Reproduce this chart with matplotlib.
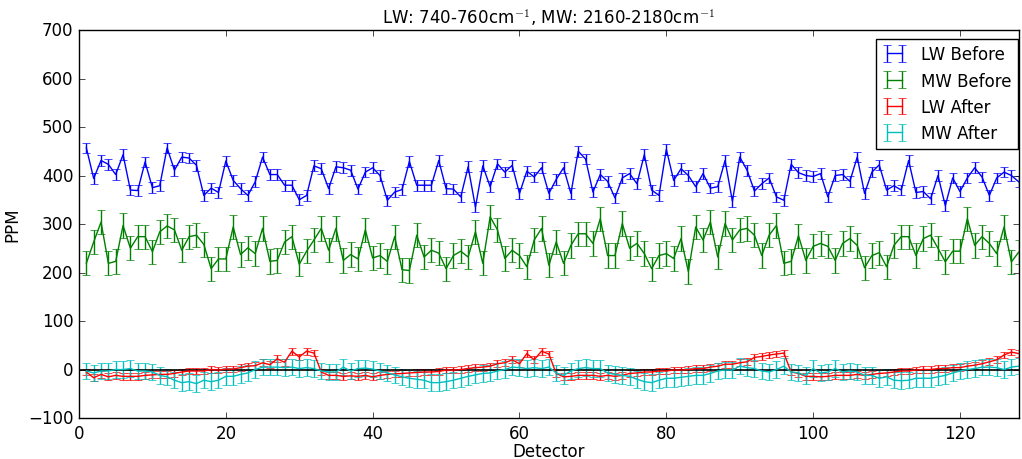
import matplotlib
matplotlib.use('Agg')
import matplotlib.pyplot as plt

detectors = list(range(1, 129))

lw_before = [457, 394, 431, 423, 402, 443, 370, 369, 428, 375, 379, 457, 411, 438, 436, 421,
             359, 374, 365, 430, 390, 373, 359, 387, 438, 402, 402, 380, 380, 350, 359, 420,
             414, 373, 418, 416, 411, 372, 407, 416, 400, 349, 366, 371, 429, 380, 380, 380,
             431, 373, 372, 356, 418, 335, 420, 377, 424, 407, 421, 363, 409, 397, 416, 363,
             392, 416, 363, 450, 434, 366, 402, 388, 354, 395, 404, 383, 443, 370, 359, 454,
             390, 414, 400, 377, 404, 374, 377, 431, 347, 438, 411, 368, 383, 395, 356, 349,
             423, 406, 400, 398, 404, 356, 400, 402, 388, 438, 363, 407, 422, 370, 379, 370,
             431, 365, 367, 352, 400, 338, 395, 367, 395, 416, 397, 359, 395, 407, 400, 387]

mw_before = [219, 263, 304, 219, 223, 297, 250, 274, 274, 243, 284, 296, 288, 246, 274, 277,
             258, 208, 228, 228, 294, 237, 251, 239, 291, 223, 225, 263, 274, 217, 244, 267,
             291, 246, 291, 225, 237, 228, 288, 230, 235, 223, 274, 206, 204, 277, 232, 246,
             240, 208, 235, 244, 232, 284, 219, 315, 288, 229, 246, 235, 212, 267, 291, 215,
             263, 219, 256, 280, 280, 260, 311, 235, 235, 301, 250, 260, 239, 208, 235, 239,
             229, 270, 202, 294, 267, 304, 232, 301, 267, 288, 291, 277, 235, 277, 297, 219,
             223, 276, 225, 254, 260, 254, 225, 260, 270, 256, 210, 235, 241, 212, 256, 274,
             274, 235, 270, 277, 250, 222, 244, 244, 311, 256, 274, 260, 239, 294, 222, 242]

lw_after = [-5, -17, -10, -15, -12, -14, -14, -14, -12, -11, -10, -10, -8, -5, -3, -3,
            -3, 0, -1, 1, 1, 4, 7, 8, 14, 10, 22, 15, 38, 26, 38, 34,
            -5, -12, -12, -14, -13, -14, -12, -15, -12, -10, -9, -8, -7, -6, -5, -5,
            -4, -1, -1, 0, 2, 4, 5, 7, 12, 14, 20, 12, 33, 20, 38, 32,
            -8, -15, -14, -12, -12, -12, -14, -12, -14, -12, -8, -7, -5, -5, -3, -3,
            -1, -1, 0, 2, 2, 5, 7, 11, 11, 14, 16, 25, 27, 30, 32, 34,
            -5, -8, -14, -14, -15, -14, -12, -12, -12, -10, -12, -10, -8, -7, -5, -3,
            -3, -1, 0, 0, 2, 2, 4, 4, 7, 9, 12, 16, 20, 30, 36, 33]

mw_after = [-3, -7, -3, -3, 0, 0, 2, -3, -3, -5, -12, -15, -22, -27, -25, -29,
            -22, -25, -22, -14, -14, -10, -7, 0, 5, 5, 5, 4, 5, 2, 4, 2,
            -3, -5, -5, 5, -3, 2, 3, 1, -3, -7, -11, -15, -18, -20, -22, -27,
            -27, -25, -22, -18, -14, -11, -8, -7, -3, 0, 5, 4, 2, 4, 2, 5,
            -7, -12, -3, 2, 4, 2, 2, -7, -10, -12, -14, -20, -25, -27, -22, -18,
            -18, -16, -14, -12, -12, -8, -3, -1, -1, 7, 4, 2, -3, -5, 0, 7,
            -5, -7, -12, 2, -7, -5, 2, -5, -3, -5, -12, -12, -18, -15, -22, -23,
            -22, -18, -18, -18, -15, -12, -7, -3, 0, 2, 5, 5, 4, 0, 5, 7]

lw_before_err = 11
mw_before_err = 25
lw_after_err = 7
mw_after_err = 17

plt.style.use('classic')
fig = plt.figure(figsize=(10.22, 4.6), dpi=100, facecolor='white')
ax = fig.add_axes([0.0773, 0.089, 0.9195, 0.8436])

ax.errorbar(detectors, lw_before, yerr=lw_before_err, color='b', label='LW Before')
ax.errorbar(detectors, mw_before, yerr=mw_before_err, color='g', label='MW Before')
ax.errorbar(detectors, lw_after, yerr=lw_after_err, color='r', label='LW After')
ax.errorbar(detectors, mw_after, yerr=mw_after_err, color='c', label='MW After')
ax.axhline(0, color='k', linewidth=1.2)

ax.set_xlim(0, 128)
ax.set_ylim(-100, 700)
ax.set_xlabel('Detector', labelpad=0)
ax.set_ylabel('PPM')
ax.set_title('LW: 740-760cm$^{-1}$, MW: 2160-2180cm$^{-1}$', fontsize=12)
ax.legend(loc='upper right', fontsize=12, handlelength=1.5,
          bbox_to_anchor=(0.999, 0.978), borderaxespad=0)

fig.savefig('out.png', dpi=100, facecolor='white')
